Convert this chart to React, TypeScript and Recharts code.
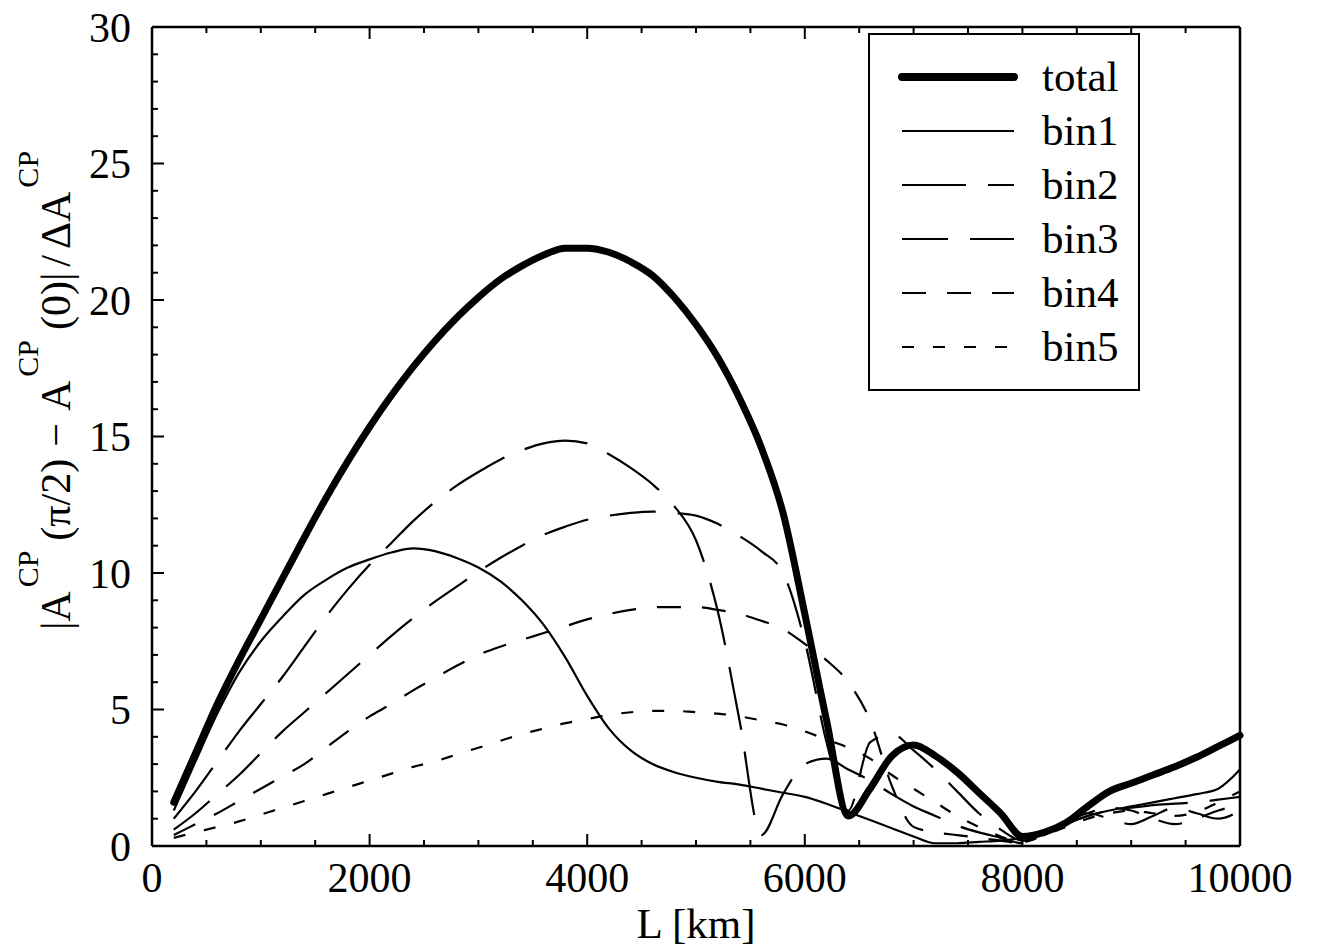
import { LineChart, Line, XAxis, YAxis } from 'recharts';

// baseline length L [km]
const lengths = [
  200, 400, 600, 800, 1000, 1200, 1400, 1600, 1800, 2000,
  2200, 2400, 2600, 2800, 3000, 3200, 3400, 3600, 3800, 4000,
  4200, 4400, 4600, 4800, 5000, 5200, 5400, 5600, 5800, 6000,
  6200, 6400, 6600, 6800, 7000, 7200, 7400, 7600, 7800, 8000,
  8200, 8400, 8600, 8800, 9000, 9200, 9400, 9600, 9800, 10000
];

const total = [
  1.6, 3.4, 5.2, 6.8, 8.3, 9.8, 11.3, 12.75, 14.1, 15.35,
  16.5, 17.55, 18.5, 19.35, 20.1, 20.75, 21.25, 21.65, 21.9, 21.9,
  21.75, 21.4, 20.9, 20.1, 19.1, 17.9, 16.4, 14.6, 12.2, 8.5,
  4.6, 1.1, 2.1, 3.3, 3.7, 3.3, 2.7, 1.95, 1.2, 0.35,
  0.5, 0.85, 1.45, 2.0, 2.3, 2.6, 2.9, 3.25, 3.65, 4.05
];

const bin1 = [
  1.3, 3.1, 4.85, 6.35, 7.5, 8.4, 9.2, 9.75, 10.2, 10.5,
  10.75, 10.9, 10.8, 10.55, 10.2, 9.7, 9.0, 8.1, 6.9, 5.5,
  4.3, 3.5, 3.0, 2.7, 2.5, 2.35, 2.25, 2.1, 1.95, 1.8,
  1.55, 1.25, 0.95, 0.65, 0.35, 0.1, 0.1, 0.15, 0.2, 0.3,
  0.5, 0.8, 1.1, 1.3, 1.45, 1.6, 1.75, 1.9, 2.1, 2.8
];

const bin2 = [
  1.0, 2.0, 3.1, 4.2, 5.2, 6.2, 7.3, 8.4, 9.4, 10.3,
  11.1, 11.9, 12.6, 13.2, 13.7, 14.15, 14.5, 14.75, 14.85, 14.75,
  14.35, 13.85, 13.25, 12.45, 11.2, 8.6, 4.6, 0.4, 1.9, 3.0,
  3.2, 2.8, 2.4, 1.9, 1.45, 1.1, 0.75, 0.5, 0.3, 0.1,
  0.4, 0.8, 1.1, 1.3, 1.4, 1.5, 1.55, 1.6, 1.7, 1.8
];

const bin3 = [
  0.6, 1.2, 1.9, 2.6, 3.4, 4.2, 4.9, 5.6, 6.3, 7.0,
  7.7, 8.35, 8.95, 9.5, 10.05, 10.55, 11.0, 11.4, 11.7, 11.95,
  12.1, 12.2, 12.25, 12.2, 12.1, 11.8, 11.35, 10.8, 10.0, 7.5,
  3.8, 1.3, 3.8, 4.1, 3.5, 2.8, 2.0, 1.2, 0.6, 0.2,
  0.5, 0.9, 1.2, 1.0, 0.8, 1.1, 1.4, 1.2, 1.0, 1.3
];

const bin4 = [
  0.4, 0.8, 1.2, 1.65, 2.1, 2.55, 3.0, 3.6, 4.2, 4.75,
  5.2, 5.7, 6.15, 6.6, 7.0, 7.3, 7.55, 7.8, 8.05, 8.3,
  8.5, 8.65, 8.75, 8.75, 8.75, 8.65, 8.5, 8.25, 7.95, 7.4,
  6.8, 6.0, 4.6, 2.2, 0.7, 0.5, 0.4, 0.3, 0.2, 0.1,
  0.5, 0.9, 1.2, 1.4, 1.3, 1.0, 0.8, 1.0, 1.3, 1.5
];

const bin5 = [
  0.3, 0.5, 0.7, 0.9, 1.15, 1.4, 1.65, 1.9, 2.15, 2.4,
  2.65, 2.9, 3.1, 3.35, 3.6, 3.85, 4.1, 4.3, 4.5, 4.65,
  4.8, 4.9, 4.95, 4.95, 4.9, 4.85, 4.75, 4.6, 4.45, 4.2,
  3.9, 3.6, 3.2, 2.6, 2.1, 1.6, 1.1, 0.7, 0.35, 0.15,
  0.4, 0.7, 1.0, 1.2, 1.3, 1.2, 1.1, 1.25, 1.6, 2.0
];

const xTicks = [
  0, 500, 1000, 1500, 2000, 2500, 3000, 3500, 4000, 4500, 5000,
  5500, 6000, 6500, 7000, 7500, 8000, 8500, 9000, 9500, 10000
];
const xLabelled = [0, 2000, 4000, 6000, 8000, 10000];

const yTicks = [
  0, 1, 2, 3, 4, 5, 6, 7, 8, 9, 10, 11, 12, 13, 14, 15,
  16, 17, 18, 19, 20, 21, 22, 23, 24, 25, 26, 27, 28, 29, 30
];
const yLabelled = [0, 5, 10, 15, 20, 25, 30];

const series = [
  { key: 'bin1', name: 'bin1', width: 2.2, dash: undefined },
  { key: 'bin2', name: 'bin2', width: 2.2, dash: '64 22' },
  { key: 'bin3', name: 'bin3', width: 2.2, dash: '46 22' },
  { key: 'bin4', name: 'bin4', width: 2.2, dash: '24 21' },
  { key: 'bin5', name: 'bin5', width: 2.2, dash: '12 19' },
  { key: 'total', name: 'total', width: 7, dash: undefined }
];
const legendOrder = ['total', 'bin1', 'bin2', 'bin3', 'bin4', 'bin5'];

const data = lengths.map((L, i) => ({
  L,
  total: total[i],
  bin1: bin1[i],
  bin2: bin2[i],
  bin3: bin3[i],
  bin4: bin4[i],
  bin5: bin5[i]
}));

const FONT = '"Liberation Serif", "Times New Roman", serif';

const BottomTick = (props: any) => {
  const { x, y, payload } = props;
  const labelled = xLabelled.includes(payload.value);
  return (
    <g>
      <line x1={x} x2={x} y1={y} y2={y - (labelled ? 12 : 6)} stroke="#000" strokeWidth={2} />
      {labelled && (
        <text x={x} y={y + 46} textAnchor="middle" fontSize={42} fontFamily={FONT} fill="#000">
          {payload.value}
        </text>
      )}
    </g>
  );
};

const TopTick = (props: any) => {
  const { x, y, payload } = props;
  const labelled = xLabelled.includes(payload.value);
  return <line x1={x} x2={x} y1={y} y2={y + (labelled ? 12 : 6)} stroke="#000" strokeWidth={2} />;
};

const LeftTick = (props: any) => {
  const { x, y, payload } = props;
  const labelled = yLabelled.includes(payload.value);
  return (
    <g>
      <line x1={x} x2={x + (labelled ? 12 : 6)} y1={y} y2={y} stroke="#000" strokeWidth={2} />
      {labelled && (
        <text x={x - 21} y={y} dy="0.35em" textAnchor="end" fontSize={42} fontFamily={FONT} fill="#000">
          {payload.value}
        </text>
      )}
    </g>
  );
};

const RightTick = (props: any) => {
  const { x, y, payload } = props;
  const labelled = yLabelled.includes(payload.value);
  return <line x1={x} x2={x - (labelled ? 12 : 6)} y1={y} y2={y} stroke="#000" strokeWidth={2} />;
};

const XLabel = (props: any) => {
  const vb = props.viewBox;
  return (
    <text x={vb.x + vb.width / 2} y={vb.y + 92} textAnchor="middle" fontSize={43} fontFamily={FONT} fill="#000">
      L [km]
    </text>
  );
};

const YLabel = (props: any) => {
  const vb = props.viewBox;
  const cx = vb.x + 70;
  const cy = vb.y + vb.height / 2 - 46;
  const sup = { fontSize: 30 };
  return (
    <text
      x={cx}
      y={cy}
      transform={`rotate(-90, ${cx}, ${cy})`}
      textAnchor="middle"
      fontSize={42}
      fontFamily={FONT}
      fill="#000"
    >
      <tspan>|A</tspan>
      <tspan dx={4} dy={-32} {...sup}>CP</tspan>
      <tspan dx={10} dy={32}>(π/2)</tspan>
      <tspan dx={12}>−</tspan>
      <tspan dx={12}>A</tspan>
      <tspan dx={4} dy={-32} {...sup}>CP</tspan>
      <tspan dx={10} dy={32}>(0)|</tspan>
      <tspan dx={6}>/</tspan>
      <tspan dx={6}>ΔA</tspan>
      <tspan dx={4} dy={-32} {...sup}>CP</tspan>
    </text>
  );
};

function LegendBox() {
  return (
    <div
      style={{
        position: 'absolute',
        left: 868,
        top: 33,
        width: 272,
        height: 358,
        border: '2.5px solid #000',
        background: '#fff',
        paddingTop: 15,
        boxSizing: 'border-box'
      }}
    >
      {legendOrder.map((k) => {
        const s = series.find((d) => d.key === k)!;
        return (
          <div key={k} style={{ height: 54, position: 'relative' }}>
            <svg width={120} height={54} style={{ position: 'absolute', left: 28, top: 0 }}>
              <line
                x1={4}
                x2={116}
                y1={27}
                y2={27}
                stroke="#000"
                strokeWidth={s.key === 'total' ? 8 : s.width}
                strokeDasharray={s.dash}
                strokeLinecap={s.key === 'total' ? 'round' : 'butt'}
              />
            </svg>
            <span
              style={{
                position: 'absolute',
                left: 172,
                top: 0,
                lineHeight: '54px',
                fontSize: 43,
                fontFamily: FONT
              }}
            >
              {s.name}
            </span>
          </div>
        );
      })}
    </div>
  );
}

export default function App() {
  return (
    <div style={{ position: 'absolute', left: 0, top: 0, width: 1317, height: 948, background: '#fff' }}>
      <LineChart width={1317} height={948} data={data} margin={{ top: 26, right: 76, bottom: 0, left: 0 }}>
        <XAxis
          dataKey="L"
          type="number"
          domain={[0, 10000]}
          ticks={xTicks}
          interval={0}
          height={102}
          tickSize={0}
          tickMargin={0}
          tick={<BottomTick />}
          axisLine={{ stroke: '#000', strokeWidth: 2.5 }}
          label={<XLabel />}
        />
        <XAxis
          xAxisId="top"
          orientation="top"
          dataKey="L"
          type="number"
          domain={[0, 10000]}
          ticks={xTicks}
          interval={0}
          height={1}
          tickSize={0}
          tickMargin={0}
          tick={<TopTick />}
          axisLine={{ stroke: '#000', strokeWidth: 2.5 }}
        />
        <YAxis
          type="number"
          domain={[0, 30]}
          ticks={yTicks}
          interval={0}
          width={152}
          tickSize={0}
          tickMargin={0}
          tick={<LeftTick />}
          axisLine={{ stroke: '#000', strokeWidth: 2.5 }}
          label={<YLabel />}
        />
        <YAxis
          yAxisId="right"
          orientation="right"
          type="number"
          domain={[0, 30]}
          ticks={yTicks}
          interval={0}
          width={1}
          tickSize={0}
          tickMargin={0}
          tick={<RightTick />}
          axisLine={{ stroke: '#000', strokeWidth: 2.5 }}
        />
        {series.map((s) => (
          <Line
            key={s.key}
            type="monotone"
            dataKey={s.key}
            name={s.name}
            stroke="#000"
            strokeWidth={s.width}
            strokeDasharray={s.dash}
            strokeLinecap={s.key === 'total' ? 'round' : 'butt'}
            dot={false}
            activeDot={false}
            isAnimationActive={false}
          />
        ))}
      </LineChart>
      <LegendBox />
    </div>
  );
}
